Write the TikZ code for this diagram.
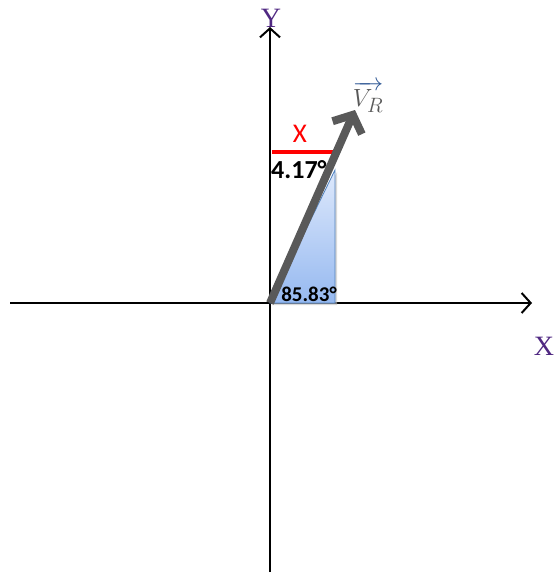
\documentclass[tikz,border=0pt]{standalone}
\usepackage{fontspec}
\setmainfont{Carlito}
\newfontfamily\serifax{Liberation Serif}
\usetikzlibrary{arrows.meta,shadows}
\definecolor{axpurple}{RGB}{80,40,130}
\definecolor{vgray}{RGB}{89,89,89}
\definecolor{triborder}{RGB}{79,129,189}
\definecolor{tritop}{RGB}{222,233,252}
\definecolor{tribot}{RGB}{150,185,240}
\definecolor{varrow}{RGB}{50,90,150}
\tikzset{
  axis/.style={line width=2pt, -{Straight Barb[length=9pt,width=20pt,line width=2pt]}},
  axlabel/.style={text=axpurple, font=\serifax\fontsize{28}{28}\selectfont, inner sep=0pt},
  anglelabel/.style={font=\bfseries\fontsize{21}{21}\selectfont, inner sep=0pt},
}
\begin{document}
\begin{tikzpicture}[x=1pt,y=-1pt]
\useasboundingbox (0,0) rectangle (554,573);
% axes
\coordinate (o) at (270,303);
\coordinate (ybot) at (270,572);
\coordinate (ytop) at (270,27);
\coordinate (xleft) at (10,303);
\coordinate (xright) at (532,303);
\draw[axis] (ybot) -- (ytop);
\draw[axis] (xleft) -- (xright);
\node[axlabel] (ylab) at (271,18) {Y};
\node[axlabel] (xlab) at (544,346) {X};
% triangle
\coordinate (tb) at (335,303);
\coordinate (tt) at (335,170);
\fill[black!25, opacity=0.6] ([shift={(2,2)}]o) -- ([shift={(2,2)}]tb) -- ([shift={(2,2)}]tt) -- cycle;
\shade[top color=tritop, bottom color=tribot] (o) -- (tb) -- (tt) -- cycle;
\draw[triborder, line width=0.8pt] (o) -- (tb) -- (tt) -- cycle;
% red line
\coordinate (ra) at (272,152);
\coordinate (rb) at (334,152);
\draw[red, line width=3.5pt] (ra) -- (rb);
\node[text=red, font=\fontsize{27}{27}\selectfont, inner sep=0pt] (xr) at (300,134) {X};
% labels
\node[anglelabel, font=\bfseries\fontsize{26}{26}\selectfont, anchor=west] (a1) at (271,170) {4.17°};
\node[anglelabel, anchor=center] (a2) at (309,294) {85.83°};
% vector
\coordinate (vtip) at (355,110);
\draw[vgray, line width=8pt, -{Straight Barb[length=14pt,width=32pt,line width=8pt]}] (o) -- (vtip);
\node[inner sep=0pt] (vr) at (368,97) {\fontsize{30}{30}\selectfont$\textcolor{varrow}{\overrightarrow{\textcolor{vgray}{V_R}}}$};
\end{tikzpicture}
\end{document}
